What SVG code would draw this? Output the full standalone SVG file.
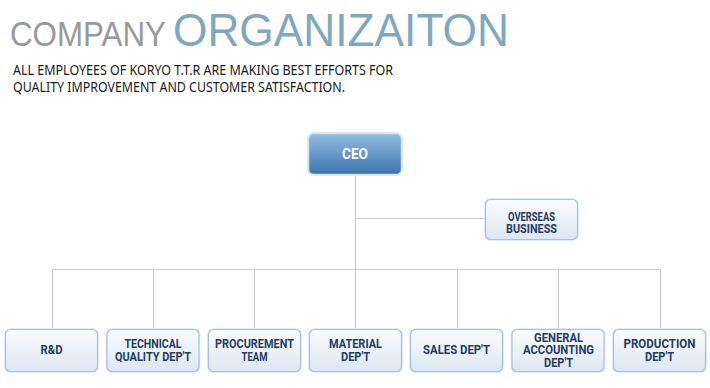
<svg xmlns="http://www.w3.org/2000/svg" width="710" height="388" viewBox="0 0 710 388">
<defs>
<linearGradient id="gCeo" x1="0" y1="0" x2="0" y2="1">
<stop offset="0" stop-color="#93bde2"/>
<stop offset="1" stop-color="#3b74ad"/>
</linearGradient>
<linearGradient id="gBox" x1="0" y1="0" x2="0" y2="1">
<stop offset="0" stop-color="#fbfcfe"/>
<stop offset="1" stop-color="#dce7f2"/>
</linearGradient>
</defs>
<style>
.title{font-family:"Liberation Sans","Noto Sans",sans-serif}
.sub{font-family:"Noto Sans","Open Sans",sans-serif;font-size:13.5px;fill:#1a1a1a}
.box{fill:url(#gBox);stroke:#a8c2da;stroke-width:1.2}
.halo{fill:none;stroke:#e3ecf5;stroke-width:3}
.lbl{font-family:"Roboto","Noto Sans",sans-serif;font-weight:bold;font-size:12px;fill:#1f3d63;text-anchor:middle}
.ceo{fill:url(#gCeo);stroke:#d3e2f1;stroke-width:1.5}
.ceot{font-family:"Roboto","Noto Sans",sans-serif;font-weight:bold;font-size:14px;fill:#ffffff;text-anchor:middle}
.line{fill:none;stroke:#cccccc;stroke-width:1}
</style>
<rect width="710" height="388" fill="#ffffff"/>
<g id="title">
<text class="title" x="10" y="46" font-size="35" fill="#999999" textLength="156" lengthAdjust="spacingAndGlyphs">COMPANY</text>
<text class="title" x="173" y="46" font-size="47" fill="#7fa8be" textLength="336" lengthAdjust="spacingAndGlyphs">ORGANIZAITON</text>
<text class="sub" x="13" y="75" textLength="380" lengthAdjust="spacingAndGlyphs">ALL EMPLOYEES OF KORYO T.T.R ARE MAKING BEST EFFORTS FOR</text>
<text class="sub" x="13" y="92" textLength="332" lengthAdjust="spacingAndGlyphs">QUALITY IMPROVEMENT AND CUSTOMER SATISFACTION.</text>
</g>
<g id="connectors">
<path class="line" d="M355.5 174 V269 M355.5 218.5 H485 M52.5 269.5 H660.5 M52.5 269 V329 M153.5 269 V329 M254.5 269 V329 M355.5 269 V329 M457.5 269 V329 M558.5 269 V329 M660.5 269 V329"/>
</g>
<g id="ceo">
<rect class="halo" x="308.5" y="133.5" width="93" height="41" rx="5"/>
<rect class="ceo" x="308.5" y="133.5" width="93" height="41" rx="5"/>
<text class="ceot" x="355" y="159" textLength="26" lengthAdjust="spacingAndGlyphs">CEO</text>
</g>
<g id="overseas">
<rect class="halo" x="485.5" y="199.5" width="92" height="40" rx="5"/>
<rect class="box" x="485.5" y="199.5" width="92" height="40" rx="5"/>
<text class="lbl" x="531.5" y="220.5" textLength="47" lengthAdjust="spacingAndGlyphs">OVERSEAS</text>
<text class="lbl" x="531.5" y="233" textLength="51" lengthAdjust="spacingAndGlyphs">BUSINESS</text>
</g>
<g id="rd">
<rect class="halo" x="5.5" y="329.5" width="92" height="42" rx="5"/>
<rect class="box" x="5.5" y="329.5" width="92" height="42" rx="5"/>
<text class="lbl" x="51.5" y="354" textLength="22" lengthAdjust="spacingAndGlyphs">R&amp;D</text>
</g>
<g id="technical">
<rect class="halo" x="107" y="329.5" width="92" height="42" rx="5"/>
<rect class="box" x="107" y="329.5" width="92" height="42" rx="5"/>
<text class="lbl" x="153" y="348" textLength="57" lengthAdjust="spacingAndGlyphs">TECHNICAL</text>
<text class="lbl" x="153" y="360.5" textLength="76" lengthAdjust="spacingAndGlyphs">QUALITY DEP'T</text>
</g>
<g id="procurement">
<rect class="halo" x="208.5" y="329.5" width="92" height="42" rx="5"/>
<rect class="box" x="208.5" y="329.5" width="92" height="42" rx="5"/>
<text class="lbl" x="254.5" y="348" textLength="79" lengthAdjust="spacingAndGlyphs">PROCUREMENT</text>
<text class="lbl" x="254.5" y="360.5" textLength="26" lengthAdjust="spacingAndGlyphs">TEAM</text>
</g>
<g id="material">
<rect class="halo" x="309.5" y="329.5" width="92" height="42" rx="5"/>
<rect class="box" x="309.5" y="329.5" width="92" height="42" rx="5"/>
<text class="lbl" x="355.5" y="348" textLength="53" lengthAdjust="spacingAndGlyphs">MATERIAL</text>
<text class="lbl" x="355.5" y="360.5" textLength="29" lengthAdjust="spacingAndGlyphs">DEP'T</text>
</g>
<g id="sales">
<rect class="halo" x="410.5" y="329.5" width="92" height="42" rx="5"/>
<rect class="box" x="410.5" y="329.5" width="92" height="42" rx="5"/>
<text class="lbl" x="456.5" y="354" textLength="67" lengthAdjust="spacingAndGlyphs">SALES DEP'T</text>
</g>
<g id="general">
<rect class="halo" x="512" y="329.5" width="92" height="42" rx="5"/>
<rect class="box" x="512" y="329.5" width="92" height="42" rx="5"/>
<text class="lbl" x="558.5" y="341.5" textLength="49" lengthAdjust="spacingAndGlyphs">GENERAL</text>
<text class="lbl" x="558.5" y="354" textLength="71" lengthAdjust="spacingAndGlyphs">ACCOUNTING</text>
<text class="lbl" x="558.5" y="366.5" textLength="29" lengthAdjust="spacingAndGlyphs">DEP'T</text>
</g>
<g id="production">
<rect class="halo" x="613.5" y="329.5" width="92" height="42" rx="5"/>
<rect class="box" x="613.5" y="329.5" width="92" height="42" rx="5"/>
<text class="lbl" x="659.5" y="348" textLength="72" lengthAdjust="spacingAndGlyphs">PRODUCTION</text>
<text class="lbl" x="659.5" y="360.5" textLength="29" lengthAdjust="spacingAndGlyphs">DEP'T</text>
</g>
</svg>
